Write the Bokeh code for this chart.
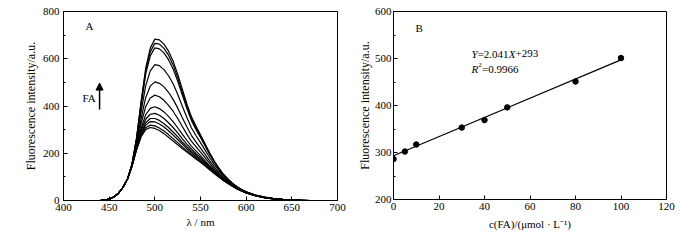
from bokeh.plotting import figure
from bokeh.layouts import row
from bokeh.models import Label, Arrow, NormalHead, SingleIntervalTicker, Range1d
from bokeh.embed import file_html
from bokeh.resources import INLINE

FONT = "Liberation Serif"

# ---------------- Panel A data: emission spectra ----------------
wavelength = [440, 445, 450, 455, 460, 465, 470, 475, 480, 485, 490, 495, 500,
              505, 510, 515, 520, 525, 530, 535, 540, 545, 550, 555, 560, 565,
              570, 575, 580, 585, 590, 595, 600, 610, 620, 630, 640, 650, 660, 670]

s01 = [0, 2, 6, 15, 30, 55, 90, 155, 265, 420, 560, 645, 683, 680, 662, 632, 590, 535, 472, 410, 355, 315, 278, 240, 202, 168, 138, 112, 91, 73, 58, 46, 37, 23, 14, 8, 5, 3, 1, 0]
s02 = [0, 2, 6, 15, 30, 55, 90, 154, 263, 413, 548, 629, 665, 662, 644, 615, 574, 521, 460, 400, 347, 308, 272, 236, 199, 165, 136, 111, 90, 72, 58, 46, 37, 23, 14, 8, 5, 3, 1, 0]
s03 = [0, 2, 6, 15, 30, 55, 90, 154, 260, 405, 535, 612, 646, 642, 625, 596, 557, 506, 447, 390, 339, 301, 267, 231, 195, 163, 134, 109, 89, 72, 57, 45, 36, 23, 14, 8, 5, 3, 1, 0]
s04 = [0, 2, 6, 15, 30, 55, 90, 152, 251, 377, 486, 549, 575, 571, 554, 528, 494, 450, 400, 352, 308, 275, 245, 213, 182, 153, 127, 104, 86, 69, 55, 44, 36, 22, 13, 8, 5, 3, 1, 0]
s05 = [0, 2, 6, 15, 30, 55, 90, 150, 241, 348, 436, 484, 502, 496, 481, 458, 428, 392, 351, 312, 276, 248, 222, 195, 168, 142, 119, 99, 82, 67, 54, 43, 35, 22, 13, 8, 5, 3, 1, 0]
s06 = [0, 2, 6, 15, 30, 55, 90, 149, 234, 326, 397, 434, 446, 439, 424, 403, 378, 347, 314, 281, 251, 228, 205, 181, 157, 134, 114, 95, 79, 65, 52, 42, 34, 21, 13, 7, 4, 2, 1, 0]
s07 = [0, 2, 6, 15, 30, 55, 90, 147, 227, 306, 363, 390, 397, 389, 375, 356, 334, 308, 281, 255, 230, 210, 190, 169, 147, 127, 108, 92, 77, 63, 51, 42, 33, 21, 12, 7, 4, 2, 1, 0]
s08 = [0, 2, 6, 15, 30, 55, 90, 147, 223, 295, 344, 365, 369, 361, 347, 329, 309, 286, 262, 239, 218, 199, 182, 162, 142, 123, 106, 90, 75, 62, 51, 41, 33, 20, 12, 7, 4, 2, 1, 0]
s09 = [0, 2, 6, 15, 30, 55, 90, 146, 221, 287, 329, 347, 347, 339, 325, 309, 290, 270, 248, 228, 209, 192, 175, 157, 138, 120, 103, 88, 74, 61, 50, 41, 33, 20, 12, 7, 4, 2, 1, 0]
s10 = [0, 2, 6, 15, 30, 55, 90, 146, 219, 281, 319, 334, 333, 324, 311, 295, 277, 258, 239, 220, 202, 186, 171, 153, 135, 118, 102, 87, 73, 61, 50, 40, 32, 20, 12, 7, 4, 2, 1, 0]
s11 = [0, 2, 6, 15, 30, 55, 90, 145, 216, 274, 308, 319, 316, 307, 294, 279, 262, 245, 227, 211, 195, 180, 165, 149, 132, 116, 100, 86, 73, 60, 49, 40, 32, 20, 12, 7, 4, 2, 1, 0]
s12 = [0, 2, 6, 15, 30, 55, 90, 145, 215, 270, 300, 309, 305, 296, 283, 268, 252, 236, 220, 205, 190, 176, 162, 146, 130, 114, 99, 85, 72, 60, 49, 40, 32, 20, 12, 7, 4, 2, 1, 0]
spectra = [s01, s02, s03, s04, s05, s06, s07, s08, s09, s10, s11, s12]

# ---------------- Panel B data: calibration ----------------
conc = [0, 5, 10, 30, 40, 50, 80, 100]
intensity = [286, 302, 317, 353, 369, 396, 451, 501]
slope = 2.041
intercept = 293
fit_x = [0, 101]

A_xticks = 50
A_yticks = 200
B_xticks = 20
B_yticks = 100


def style(p, xint, yint, xlabel, ylabel, xstandoff, ystandoff, ylabstand):
    p.xgrid.visible = False
    p.ygrid.visible = False
    p.outline_line_color = "black"
    p.outline_line_width = 1
    p.outline_line_alpha = 1
    p.background_fill_color = "white"
    p.border_fill_color = "white"
    p.xaxis.ticker = SingleIntervalTicker(interval=xint, num_minor_ticks=0)
    p.yaxis.ticker = SingleIntervalTicker(interval=yint, num_minor_ticks=2)
    for ax in (p.xaxis[0], p.yaxis[0]):
        ax.axis_line_color = "black"
        ax.major_tick_line_color = "black"
        ax.minor_tick_line_color = "black"
        ax.major_tick_in = 4
        ax.major_tick_out = 0
        ax.minor_tick_in = 2
        ax.minor_tick_out = 0
        ax.major_label_text_font = FONT
        ax.major_label_text_font_size = "11px"
        ax.major_label_text_color = "black"
        ax.axis_label_text_font = FONT
        ax.axis_label_text_font_style = "normal"
        ax.axis_label_text_color = "black"
    p.xaxis.major_label_standoff = 3
    p.yaxis.major_label_standoff = ylabstand
    p.xaxis.axis_label = xlabel
    p.xaxis.axis_label_text_font_size = "11px"
    p.xaxis.axis_label_standoff = xstandoff
    p.yaxis.axis_label = ylabel
    p.yaxis.axis_label_text_font_size = "12px"
    p.yaxis.axis_label_standoff = ystandoff


def lab(p, x, y, text, italic=False, size="11px", xo=0, yo=0, align="left", base="middle"):
    p.add_layout(Label(x=x, y=y, x_offset=xo, y_offset=yo, text=text,
                       text_font=FONT, text_font_size=size,
                       text_font_style="italic" if italic else "normal",
                       text_color="black", text_align=align, text_baseline=base))


# ---------------- Figure A ----------------
p1 = figure(frame_width=274, frame_height=189, output_backend="svg", toolbar_location=None,
            x_range=Range1d(400, 700), y_range=Range1d(0, 800),
            min_border_left=63, min_border_right=13, min_border_top=11, min_border_bottom=38)
style(p1, A_xticks, A_yticks, "λ / nm", "Fluorescence intensity/a.u.", 2, 2, 4)
for s in spectra:
    p1.line(wavelength, s, line_color="black", line_width=1.2)

lab(p1, 424, 740, "A")
lab(p1, 428, 435, "FA", align="center")
p1.add_layout(Arrow(x_start=439.5, y_start=385, x_end=439.5, y_end=497,
                    line_color="black", line_width=1.5,
                    end=NormalHead(size=7, fill_color="black", line_color="black")))

# ---------------- Figure B ----------------
p2 = figure(frame_width=273, frame_height=188, output_backend="svg", toolbar_location=None,
            x_range=Range1d(0, 120), y_range=Range1d(200, 600),
            min_border_left=43, min_border_right=32, min_border_top=9, min_border_bottom=41)
style(p2, B_xticks, B_yticks, "c(FA)/(μmol · L⁻¹)", "Fluorescence intensity/a.u.", 5, 0, 2)
p2.line(fit_x, [intercept + slope * x for x in fit_x], line_color="black", line_width=1.2)
p2.scatter(conc, intensity, size=5.5, marker="circle", fill_color="black", line_color="black")

lab(p2, 9.7, 564, "B")
# equation
lab(p2, 34.3, 510, "Y", italic=True)
lab(p2, 34.3, 510, "=2.041", xo=6.1)
lab(p2, 34.3, 510, "X", italic=True, xo=37.2)
lab(p2, 34.3, 510, "+293", xo=43.9)
lab(p2, 34.3, 478, "R", italic=True)
lab(p2, 34.3, 478, "2", size="7px", xo=6.7, yo=4)
lab(p2, 34.3, 478, "=0.9966", xo=10.5)

layout = row(p1, p2)
open("out.html", "w").write(file_html(layout, INLINE))
